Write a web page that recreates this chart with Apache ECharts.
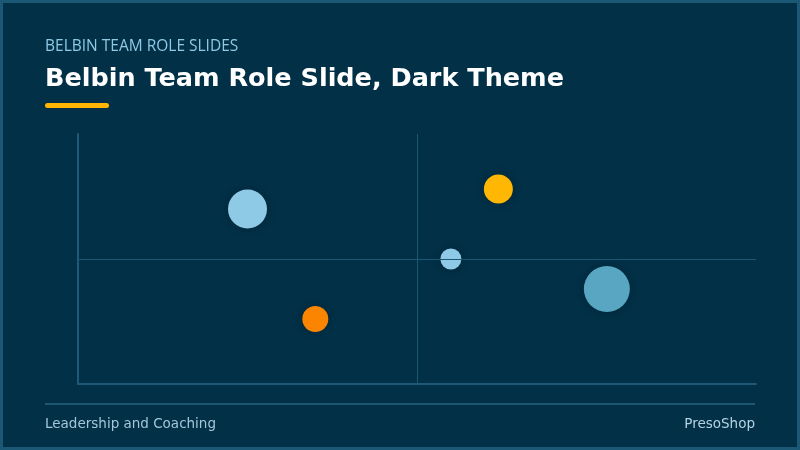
<!DOCTYPE html>
<html>
<head>
<meta charset="utf-8">
<script src="https://cdn.jsdelivr.net/npm/echarts@6/dist/echarts.min.js"></script>
<style>
html,body{margin:0;padding:0;background:#023047;}
#chart{width:800px;height:450px;}
</style>
</head>
<body>
<div id="chart"></div>
<script>
// Data
const roles = ['Role A', 'Role B', 'Role C', 'Role D', 'Role E'];
const xValues = [25, 35, 55, 62, 78];
const yValues = [70, 26, 50, 78, 38];
const weights = [39, 26, 21, 29, 46];
const quadrantX = 50;
const quadrantY = 50;

const palette = ['#8ecae6', '#fb8500', '#8ecae6', '#ffb703', '#58a6c2'];

const chart = echarts.init(document.getElementById('chart'), null, {renderer: 'canvas'});

const seriesData = roles.map((r, i) => ({
  name: r,
  value: [xValues[i], yValues[i], weights[i]],
  itemStyle: {color: palette[i]}
}));

chart.setOption({
  backgroundColor: '#023047',
  animation: false,
  title: [
    {
      text: 'BELBIN TEAM ROLE SLIDES',
      left: 45, top: 39, padding: 0,
      textStyle: {color: '#8ecae6', fontSize: 15.5, fontWeight: 'normal', fontFamily: 'Open Sans'}
    },
    {
      text: 'Belbin Team Role Slide, Dark Theme',
      left: 45, top: 66, padding: 0,
      textStyle: {color: '#ffffff', fontSize: 25.5, fontWeight: 'bold', fontFamily: 'DejaVu Sans'}
    }
  ],
  grid: {left: 78, right: 44, top: 134, bottom: 66, containLabel: false},
  xAxis: {
    type: 'value', min: 0, max: 100,
    axisLine: {show: true, lineStyle: {color: '#1e5a78', width: 2}},
    axisTick: {show: false}, axisLabel: {show: false}, splitLine: {show: false}
  },
  yAxis: {
    type: 'value', min: 0, max: 100,
    axisLine: {show: true, lineStyle: {color: '#1e5a78', width: 2}},
    axisTick: {show: false}, axisLabel: {show: false}, splitLine: {show: false}
  },
  series: [{
    type: 'scatter',
    data: seriesData,
    symbolSize: v => v[2],
    itemStyle: {opacity: 1, shadowBlur: 8, shadowColor: 'rgba(0,0,0,0.25)'},
    markLine: {
      silent: true,
      symbol: ['none', 'none'],
      label: {show: false},
      lineStyle: {color: '#1d5672', width: 1, type: 'solid'},
      data: [{xAxis: quadrantX}, {yAxis: quadrantY}]
    },
    z: 3
  }],
  graphic: [
    {type: 'rect', left: 45, top: 103, shape: {width: 64, height: 5, r: 2.5}, style: {fill: '#ffb703'}},
    {type: 'line', shape: {x1: 45, y1: 404, x2: 755, y2: 404}, style: {stroke: '#1d5672', lineWidth: 2}},
    {type: 'text', left: 45, top: 417, style: {text: 'Leadership and Coaching', fill: '#a3c6da', font: '13.5px "DejaVu Sans"'}},
    {type: 'text', right: 45, top: 417, style: {text: 'PresoShop', fill: '#b5d3e4', font: '13.5px "DejaVu Sans"'}},
    {type: 'rect', shape: {x: 1.5, y: 1.5, width: 797, height: 447}, style: {fill: 'none', stroke: '#1b5876', lineWidth: 3}, z: 100}
  ]
});
</script>
</body>
</html>
